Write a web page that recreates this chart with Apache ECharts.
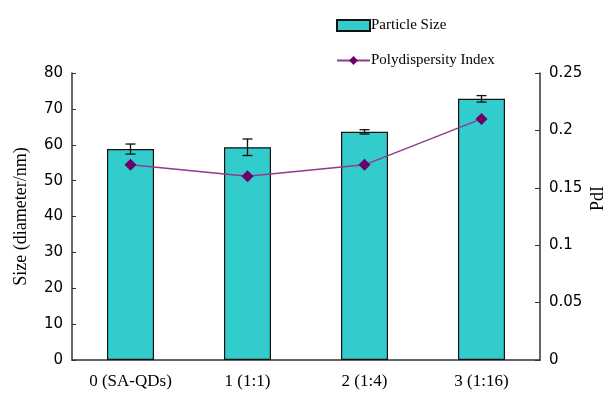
<!DOCTYPE html>
<html>
<head>
<meta charset="utf-8">
<script src="https://cdn.jsdelivr.net/npm/echarts@6/dist/echarts.min.js"></script>
<style>html,body{margin:0;padding:0;background:#fff}#c{width:615px;height:397px}</style>
</head>
<body>
<div id="c"></div>
<script>
const categories = ['0 (SA-QDs)', '1 (1:1)', '2 (1:4)', '3 (1:16)'];
const particleSize = [58.8, 59.3, 63.6, 72.8];
const sizeError = [1.4, 2.3, 0.6, 0.9];
const pdi = [0.17, 0.16, 0.17, 0.21];
const leftTicks = { min: 0, max: 80, interval: 10 };
const rightTicks = { min: 0, max: 0.25, interval: 0.05 };
const rightAxisTitle = 'PdI';

const serif = 'Liberation Serif';
const sans = 'DejaVu Sans';
const axisColor = '#333';

const chart = echarts.init(document.getElementById('c'), null, { renderer: 'canvas' });
chart.setOption({
  animation: false,
  backgroundColor: '#fff',
  grid: { left: 72, right: 75, top: 73, bottom: 37, containLabel: false },
  legend: {
    orient: 'vertical',
    left: 331, top: 13,
    itemWidth: 33, itemHeight: 11, itemGap: 20,
    textStyle: { fontFamily: serif, fontSize: 15, color: '#000', padding: [0,0,0,-4] },
    data: [
      { name: 'Particle Size', icon: 'rect' },
      { name: 'Polydispersity Index' }
    ]
  },
  graphic: [{
    type: 'text', left: 589, top: 'middle', rotation: Math.PI / 2,
    style: { text: rightAxisTitle, font: '18px "Liberation Serif"', fill: '#000' }
  }],
  xAxis: {
    type: 'category',
    data: categories,
    boundaryGap: true,
    axisLine: { lineStyle: { color: axisColor, width: 1.5 } },
    axisTick: { inside: true, length: 4, alignWithLabel: false, lineStyle: { color: axisColor } },
    axisLabel: { fontFamily: serif, fontSize: 17, color: '#000', margin: 13 },
    splitLine: { show: false }
  },
  yAxis: [
    {
      type: 'value', position: 'left',
      min: leftTicks.min, max: leftTicks.max, interval: leftTicks.interval,
      name: 'Size (diameter/nm)', nameLocation: 'middle', nameRotate: 90, nameGap: 42,
      nameTextStyle: { fontFamily: serif, fontSize: 18, color: '#000' },
      axisLine: { show: true, lineStyle: { color: axisColor, width: 1.5 } },
      axisTick: { show: true, inside: true, length: 4, lineStyle: { color: axisColor } },
      axisLabel: { fontFamily: sans, fontSize: 15, color: '#000', margin: 9 },
      splitLine: { show: false }
    },
    {
      type: 'value', position: 'right',
      min: rightTicks.min, max: rightTicks.max, interval: rightTicks.interval,
      axisLine: { show: true, lineStyle: { color: axisColor, width: 1.5 } },
      axisTick: { show: true, inside: true, length: 5, lineStyle: { color: axisColor } },
      axisLabel: { fontFamily: sans, fontSize: 15, color: '#000', margin: 9,
        formatter: v => String(+v.toFixed(2)) },
      splitLine: { show: false }
    }
  ],
  series: [
    {
      name: 'Particle Size', type: 'bar', yAxisIndex: 0,
      data: particleSize, barWidth: 47,
      itemStyle: { color: '#33CCCC', borderColor: '#111', borderWidth: 1.2 }
    },
    {
      name: 'errors', type: 'custom', yAxisIndex: 0, z: 5,
      data: particleSize.map((v, i) => [i, v - sizeError[i], v + sizeError[i]]),
      renderItem: function (params, api) {
        const lo = api.coord([api.value(0), api.value(1)]);
        const hi = api.coord([api.value(0), api.value(2)]);
        const w = 5;
        const st = { stroke: '#111', lineWidth: 1.3 };
        return {
          type: 'group',
          children: [
            { type: 'line', shape: { x1: hi[0], y1: hi[1], x2: lo[0], y2: lo[1] }, style: st },
            { type: 'line', shape: { x1: hi[0] - w, y1: hi[1], x2: hi[0] + w, y2: hi[1] }, style: st },
            { type: 'line', shape: { x1: lo[0] - w, y1: lo[1], x2: lo[0] + w, y2: lo[1] }, style: st }
          ]
        };
      }
    },
    {
      name: 'Polydispersity Index', type: 'line', yAxisIndex: 1, z: 6,
      data: pdi,
      symbol: 'diamond', symbolSize: 12,
      lineStyle: { color: '#8E3A8E', width: 1.5 },
      itemStyle: { color: '#6A006A' }
    }
  ]
});
</script>
</body>
</html>
